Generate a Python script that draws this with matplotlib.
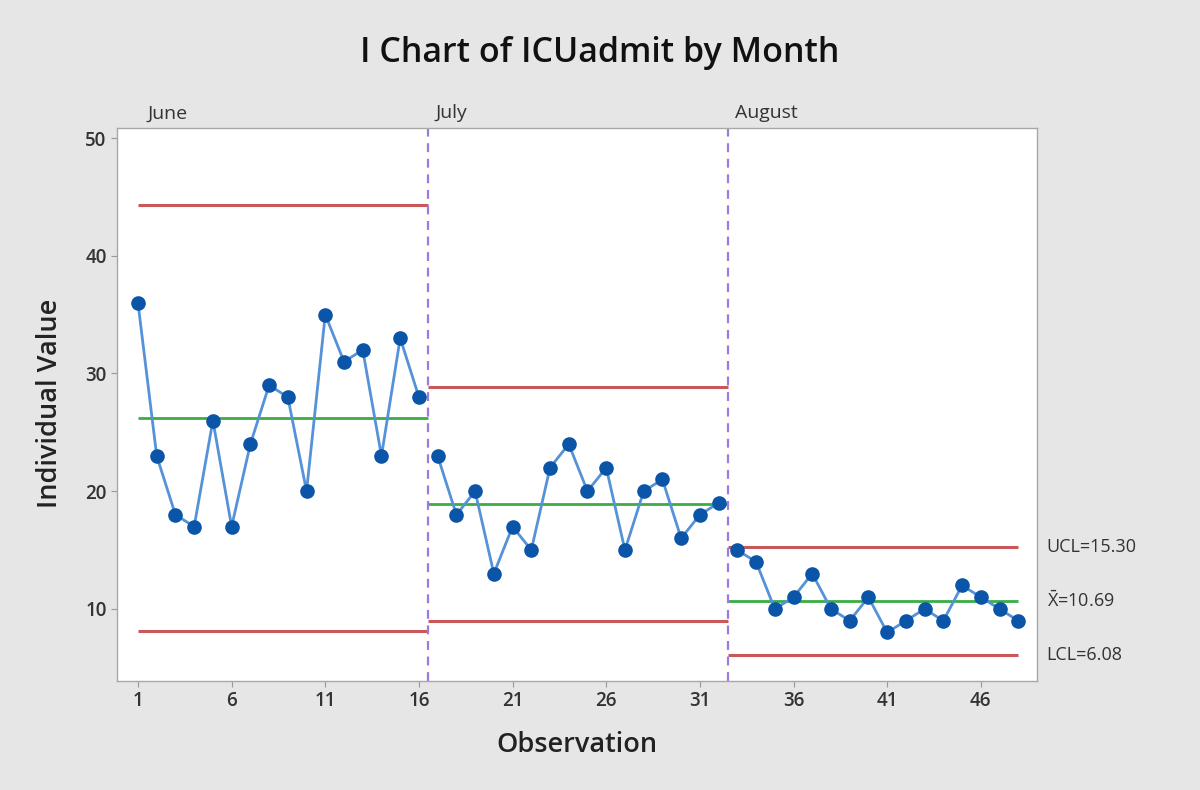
import matplotlib
matplotlib.use("Agg")
import matplotlib.pyplot as plt
import numpy as np

plt.rcParams['font.family'] = ['Open Sans', 'DejaVu Sans']

months = ["June", "July", "August"]
june = [36, 23, 18, 17, 26, 17, 24, 29, 28, 20, 35, 31, 32, 23, 33, 28]
july = [23, 18, 20, 13, 17, 15, 22, 24, 20, 22, 15, 20, 21, 16, 18, 19]
august = [15, 14, 10, 11, 13, 10, 9, 11, 8, 9, 10, 9, 12, 11, 10, 9]
center = [26.25, 18.94, 10.69]
ucl = [44.34, 28.87, 15.30]
lcl = [8.16, 9.01, 6.08]
xticks = [1, 6, 11, 16, 21, 26, 31, 36, 41, 46]
yticks = [10, 20, 30, 40, 50]

groups = [june, july, august]
bg = "#e6e6e6"
fig = plt.figure(figsize=(12, 7.9), dpi=100, facecolor=bg)
ax = fig.add_axes([117/1200, 1 - 681/790, (1037-117)/1200, (681-128)/790])
ax.set_facecolor("white")

line_c = "#5592d8"
mark_c = "#0a55a8"
red = "#c9585a"
green = "#3aad45"
purple = "#9b7be0"

start = 1
bounds = []
for i, g in enumerate(groups):
    x = np.arange(start, start + len(g))
    ax.plot(x, g, color=line_c, lw=2.0, marker="o", ms=9.5,
            mfc=mark_c, mec=mark_c, zorder=3)
    x0 = start if i == 0 else start - 0.5
    x1 = start + len(g) - 0.5 if i < len(groups) - 1 else start + len(g) - 1
    ax.hlines([ucl[i], lcl[i]], x0, x1, color=red, lw=2.2, zorder=2)
    ax.hlines(center[i], x0, x1, color=green, lw=2.0, zorder=2)
    lab_x = start + 0.5 if i == 0 else start - 0.5
    ax.annotate(months[i], xy=(lab_x, 1), xycoords=("data", "axes fraction"),
                xytext=(5 if i else 0, 4), textcoords="offset points",
                ha="left", va="bottom", fontsize=14, color="#333333")
    if i < len(groups) - 1:
        bounds.append(start + len(g) - 0.5)
    start += len(g)

for b in bounds:
    ax.axvline(b, color=purple, lw=1.6, ls=(0, (4, 3)), zorder=2)

txt_kw = dict(fontsize=13, color="#333333", va="center", ha="left")
ax.annotate(f"UCL={ucl[-1]:.2f}", xy=(1, ucl[-1]), xycoords=("axes fraction", "data"),
            xytext=(7, 0), textcoords="offset points", **txt_kw)
ax.annotate(f"$\\bar{{\\mathregular{{X}}}}$={center[-1]:.2f}", xy=(1, center[-1]), xycoords=("axes fraction", "data"),
            xytext=(7, 0), textcoords="offset points", **txt_kw)
ax.annotate(f"LCL={lcl[-1]:.2f}", xy=(1, lcl[-1]), xycoords=("axes fraction", "data"),
            xytext=(7, 0), textcoords="offset points", **txt_kw)

ax.set_xlim(-0.12, 49.0)
ax.set_ylim(3.88, 50.85)
ax.set_xticks(xticks)
ax.set_yticks(yticks)
ax.tick_params(labelsize=13.5, colors="#333333", length=4, color="#999999")
for lbl in ax.get_xticklabels() + ax.get_yticklabels():
    lbl.set_fontweight("semibold")
for s in ax.spines.values():
    s.set_color("#a8a8a8")
    s.set_linewidth(1.0)

ax.set_xlabel("Observation", fontsize=19.5, color="#222222", fontweight="semibold")
ax.set_ylabel("Individual Value", fontsize=19.5, color="#222222", fontweight="semibold")
ax.xaxis.set_label_coords((577 - 117) / 920, (681 - 745) / 553)
ax.yaxis.set_label_coords((50 - 117) / 920, (681 - 403) / 553)
ax.xaxis.label.set_va("center")
ax.yaxis.label.set_va("center")
fig.text(600/1200, 1 - 53/790, "I Chart of ICUadmit by Month", ha="center", va="center",
         fontsize=24.5, fontweight="semibold", color="#111111")

fig.savefig("out.png", dpi=100, facecolor=bg)
